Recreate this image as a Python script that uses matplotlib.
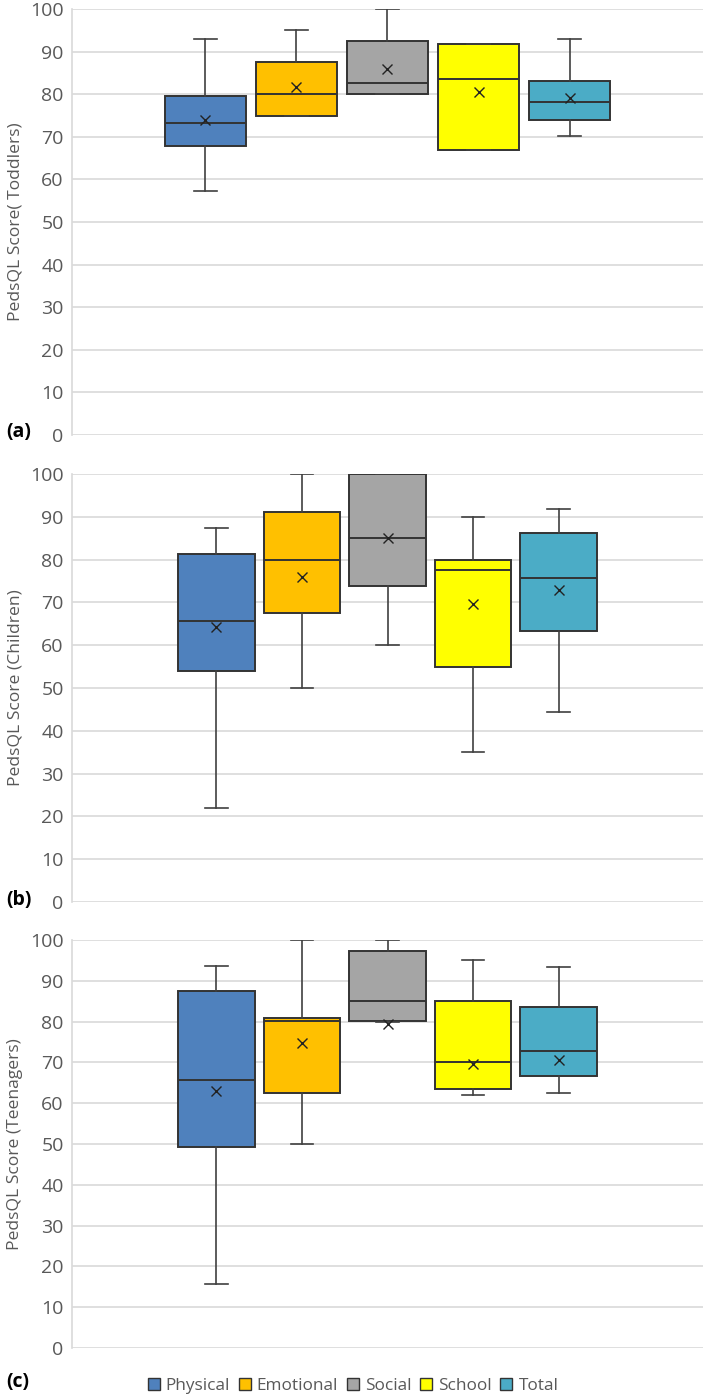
import matplotlib
matplotlib.use("Agg")
import matplotlib.pyplot as plt
from matplotlib.patches import Patch

plt.rcParams['font.family'] = ['Open Sans', 'DejaVu Sans']

domains = ["Physical", "Emotional", "Social", "School", "Total"]
colors = ["#4F81BD", "#FFC000", "#A5A5A5", "#FFFF00", "#4BACC6"]

panel_letters = ["(a)", "(b)", "(c)"]
ylabels = ["PedsQL Score( Toddlers)", "PedsQL Score (Children)", "PedsQL Score (Teenagers)"]

# per-panel statistics: [Physical, Emotional, Social, School, Total]
toddlers_min = [57.2, 75.0, 80.0, 66.8, 70.3]
toddlers_q1 = [67.9, 75.0, 80.1, 66.8, 73.9]
toddlers_med = [73.3, 80.1, 82.6, 83.5, 78.1]
toddlers_q3 = [79.5, 87.5, 92.6, 91.7, 83.2]
toddlers_max = [92.9, 95.0, 100.0, 91.7, 92.9]
toddlers_mean = [73.9, 81.7, 85.9, 80.6, 79.1]

children_min = [22.0, 49.9, 60.1, 35.0, 44.4]
children_q1 = [53.9, 67.6, 73.8, 55.0, 63.4]
children_med = [65.7, 80.0, 85.0, 77.6, 75.6]
children_q3 = [81.2, 91.1, 100.0, 80.0, 86.2]
children_max = [87.5, 100.0, 100.0, 89.9, 91.8]
children_mean = [64.3, 76.0, 85.0, 69.6, 72.8]

teen_min = [15.6, 50.0, 80.0, 61.9, 62.5]
teen_q1 = [49.2, 62.5, 80.1, 63.4, 66.6]
teen_med = [65.7, 80.2, 85.0, 70.0, 72.8]
teen_q3 = [87.4, 80.9, 97.4, 85.0, 83.6]
teen_max = [93.7, 100.0, 100.0, 95.0, 93.5]
teen_mean = [63.0, 74.7, 79.5, 69.7, 70.6]

panels = [
    (toddlers_min, toddlers_q1, toddlers_med, toddlers_q3, toddlers_max, toddlers_mean),
    (children_min, children_q1, children_med, children_q3, children_max, children_mean),
    (teen_min, teen_q1, teen_med, teen_q3, teen_max, teen_mean),
]

W, H = 709, 1400
fig = plt.figure(figsize=(W / 100, H / 100), dpi=100)

# axes pixel boxes (left, top, right, bottom)
ax_px = [(72, 9, 703, 435), (72, 474, 703, 902), (72, 940, 703, 1348)]
half_spans = [3.467, 3.69, 3.69]
label_y_px = [432, 900, 1382]

text_gray = "#595959"
edge = "#333333"

for i, (stats_src, (l, t, r, b)) in enumerate(zip(panels, ax_px)):
    ax = fig.add_axes([l / W, 1 - b / H, (r - l) / W, (b - t) / H])
    mins, q1s, meds, q3s, maxs, means = stats_src
    stats = []
    for j in range(len(domains)):
        stats.append(dict(med=meds[j], q1=q1s[j], q3=q3s[j], whislo=mins[j],
                          whishi=maxs[j], mean=means[j], fliers=[], label=domains[j]))
    positions = list(range(1, len(domains) + 1))
    bp = ax.bxp(stats, positions=positions, widths=0.9, patch_artist=True,
                showmeans=True, showfliers=False, capwidths=0.26,
                boxprops=dict(edgecolor=edge, linewidth=1.4),
                medianprops=dict(color=edge, linewidth=1.4),
                whiskerprops=dict(color="#404040", linewidth=1.2),
                capprops=dict(color="#404040", linewidth=1.2),
                meanprops=dict(marker='x', markeredgecolor="#222222", markersize=7,
                               markeredgewidth=1.0))
    for patch, c in zip(bp['boxes'], colors):
        patch.set_facecolor(c)
    ax.set_ylim(0, 100)
    ax.set_xlim(3 - half_spans[i], 3 + half_spans[i])
    ax.set_yticks(range(0, 101, 10))
    ax.set_xticks([])
    ax.grid(axis='y', color="#d9d9d9", linewidth=1.2)
    ax.set_axisbelow(True)
    for s in ['top', 'right', 'bottom']:
        ax.spines[s].set_visible(False)
    ax.spines['left'].set_color("#d9d9d9")
    ax.spines['left'].set_linewidth(1.2)
    ax.tick_params(axis='y', length=0, pad=6, labelsize=14, labelcolor=text_gray)
    ax.set_ylabel(ylabels[i], fontsize=12.6, color=text_gray, labelpad=5)
    fig.text(6 / W, 1 - label_y_px[i] / H, panel_letters[i], fontsize=14,
             fontweight='bold', color='black', va='center', ha='left')

handles = [Patch(facecolor=c, edgecolor=edge, linewidth=1.0) for c in colors]
fig.legend(handles, domains, loc='center', bbox_to_anchor=(353 / W, 1 - 1386 / H),
           ncol=5, frameon=False, fontsize=12.4, labelcolor=text_gray,
           handlelength=0.7, handleheight=0.7, handletextpad=0.35, columnspacing=0.5)

fig.savefig("out.png", dpi=100, facecolor="white")
